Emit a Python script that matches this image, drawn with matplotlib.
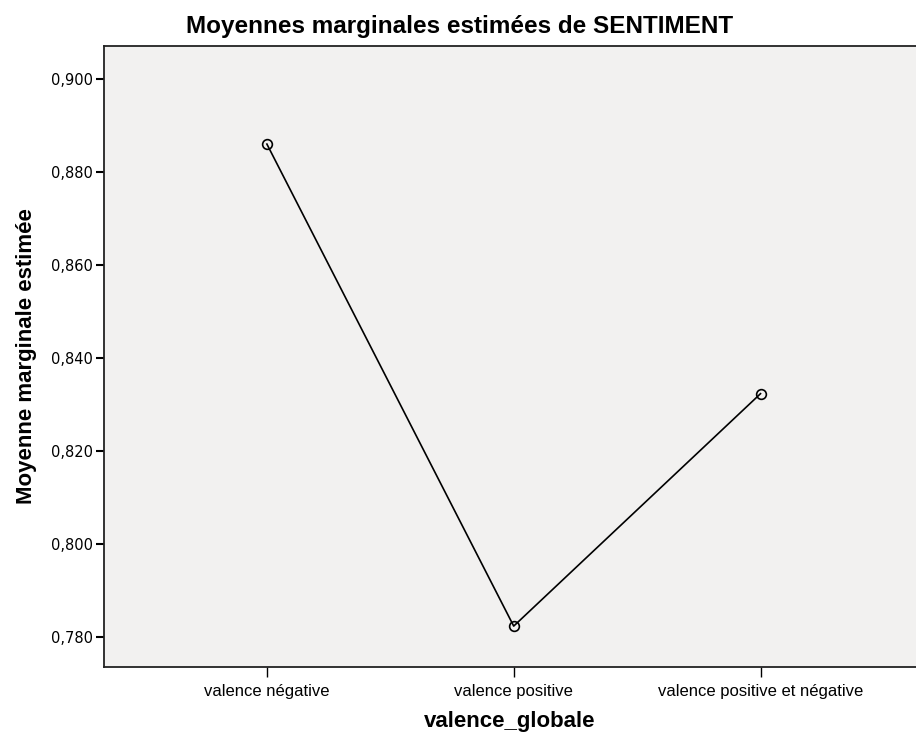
import matplotlib
matplotlib.use("Agg")
import matplotlib.pyplot as plt
from matplotlib.ticker import FuncFormatter

# data
categories = ["valence négative", "valence positive", "valence positive et négative"]
means = [0.886, 0.7823, 0.8323]
yticks = [0.78, 0.80, 0.82, 0.84, 0.86, 0.88, 0.90]

fig = plt.figure(figsize=(9.16, 7.34), dpi=100)
ax = fig.add_axes([104 / 916, 1 - 667 / 734, 1 - 104 / 916, (667 - 46) / 734])
ax.set_facecolor("#f2f1f0")

x = list(range(len(categories)))
ax.plot(x, means, color="black", linewidth=1.2, marker="o", markersize=7,
        markerfacecolor="none", markeredgecolor="black", markeredgewidth=1.2)

ax.set_xlim(-0.66, 2.63)
ax.set_ylim(0.7735, 0.9071)
ax.set_yticks(yticks)
ax.yaxis.set_major_formatter(FuncFormatter(lambda v, p: f"{v:.3f}".replace(".", ",")))
ax.set_xticks(x)
ax.set_xticklabels(categories, family="Liberation Sans", fontsize=12)

ax.tick_params(axis="y", direction="out", length=6, width=1.5, labelsize=10.5,
               colors="black", pad=2)
ax.tick_params(axis="x", direction="out", length=7, width=1.0, pad=5)

for side in ["left", "bottom", "top"]:
    ax.spines[side].set_linewidth(1.3)
    ax.spines[side].set_color("#222222")
ax.spines["right"].set_visible(False)

ax.set_ylabel("Moyenne marginale estimée", family="Liberation Sans", fontsize=16,
              fontweight="bold", labelpad=10)
ax.set_xlabel("valence_globale", family="Liberation Sans", fontsize=16,
              fontweight="bold", labelpad=9)
fig.text(460 / 916, 1 - 27 / 734, "Moyennes marginales estimées de SENTIMENT",
         family="Liberation Sans", fontsize=17.5, fontweight="bold",
         ha="center", va="center")

fig.savefig("out.png", dpi=100)
